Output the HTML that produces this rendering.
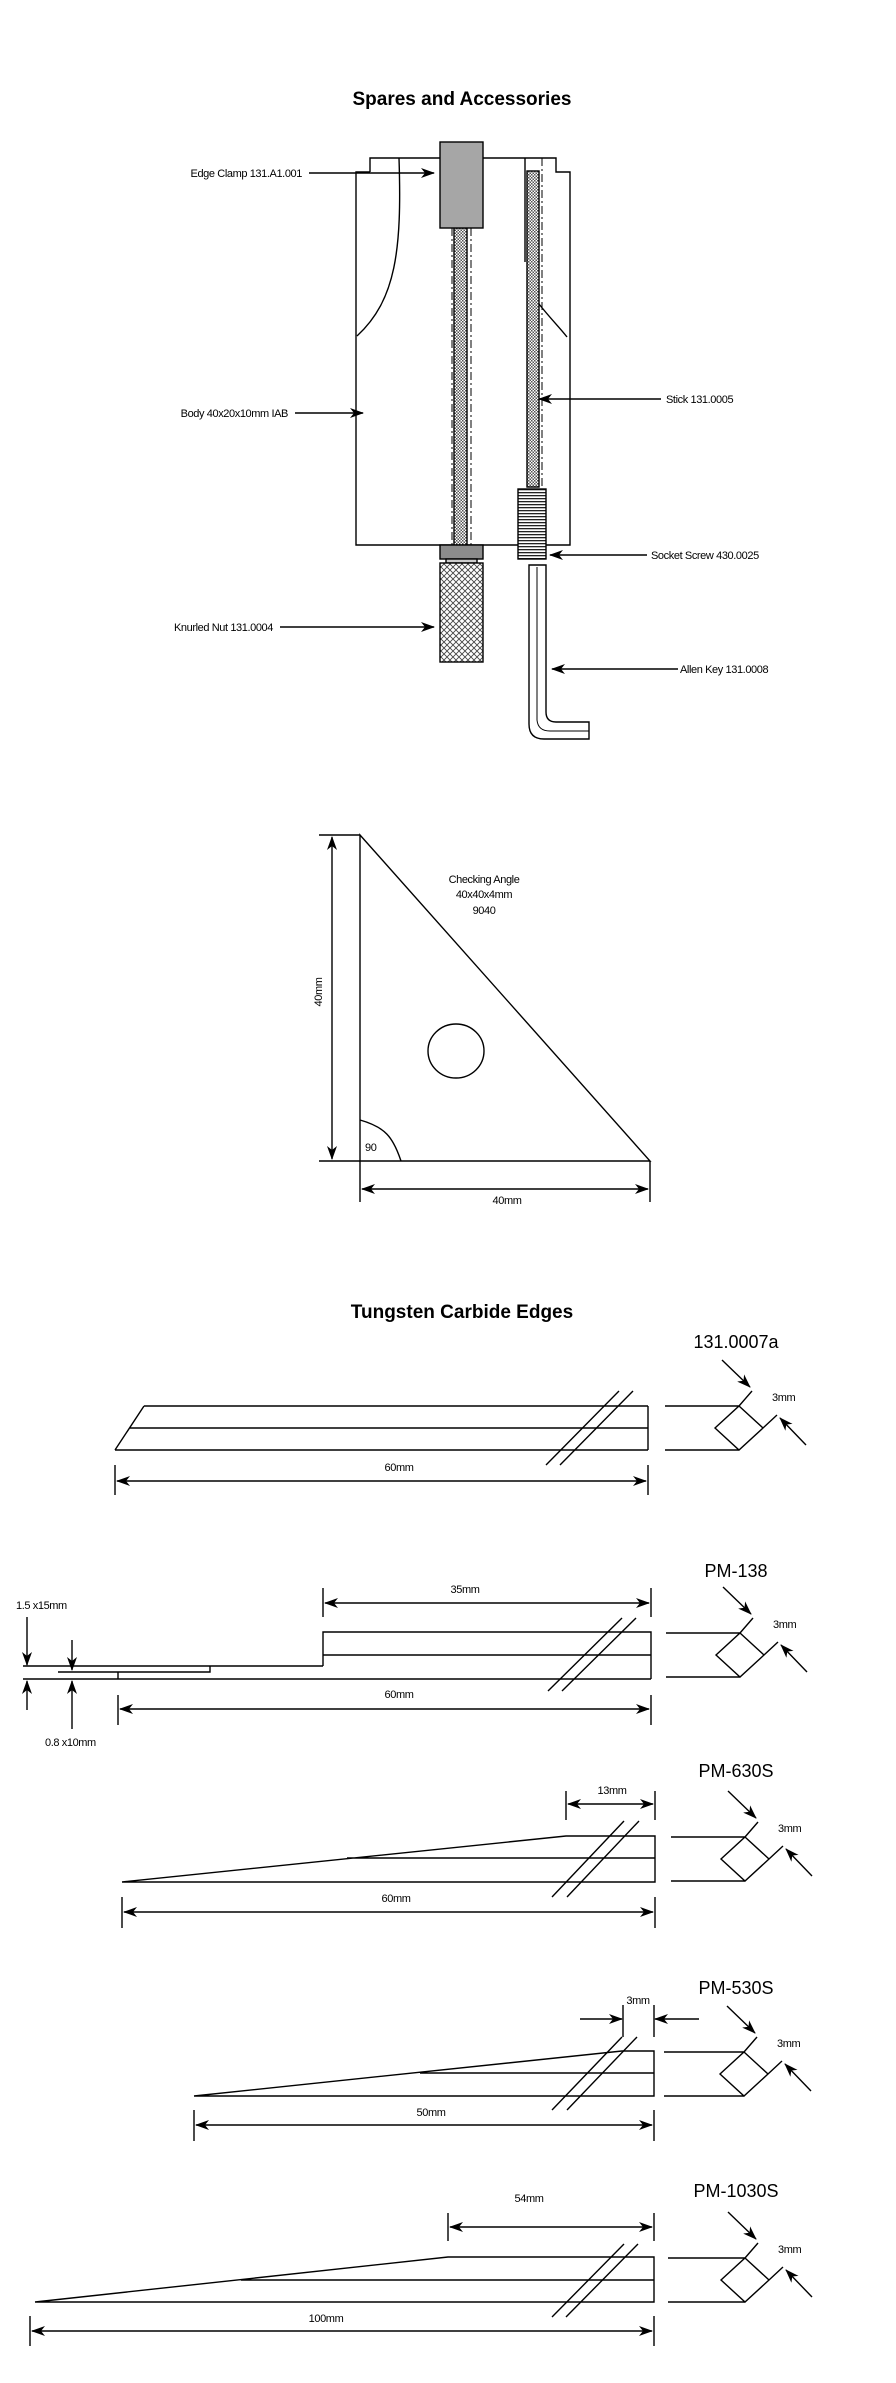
<!DOCTYPE html>
<html><head><meta charset="utf-8"><style>
html,body{margin:0;padding:0;background:#fff}
svg{display:block}
text{font-family:"Liberation Sans",Arial,sans-serif;fill:#000}
.s{font-size:11px;letter-spacing:-0.4px}
.t{font-size:19px;font-weight:bold}
.p{font-size:18px}
</style></head><body>
<svg width="896" height="2383" viewBox="0 0 896 2383" xmlns="http://www.w3.org/2000/svg">
<defs>
<marker id="a" markerWidth="14" markerHeight="10" refX="13" refY="5" orient="auto" markerUnits="userSpaceOnUse">
<path d="M0,0 L14,5 L0,10 L4,5 z" fill="#000"/></marker>
<marker id="b" markerWidth="14" markerHeight="10" refX="1" refY="5" orient="auto" markerUnits="userSpaceOnUse">
<path d="M14,0 L0,5 L14,10 L10,5 z" fill="#000"/></marker>
<pattern id="k" width="3" height="3" patternUnits="userSpaceOnUse"><rect width="3" height="3" fill="#fff"/><rect width="1.5" height="1.5" fill="#555"/><rect x="1.5" y="1.5" width="1.5" height="1.5" fill="#555"/></pattern>
<pattern id="kn" width="6" height="6" patternUnits="userSpaceOnUse"><rect width="6" height="6" fill="#fff"/><path d="M0,0 L6,6 M6,0 L0,6" stroke="#444" stroke-width="0.9"/></pattern>
<pattern id="st" width="4" height="3" patternUnits="userSpaceOnUse"><rect width="4" height="3" fill="#fff"/><rect width="4" height="1.3" fill="#222"/></pattern>
</defs>
<g stroke="#000" stroke-width="1.4" fill="none">

<!-- Body -->
<path d="M370,172 L370,158 L556,158 L556,172 L570,172 L570,545 L356,545 L356,172 L370,172"/>
<path d="M399,158 C402,250 396,300 357,336"/>
<path d="M539,304 C550,318 560,328 567,337"/>
<line x1="525" y1="158" x2="525" y2="262"/>
<line x1="452" y1="228" x2="452" y2="545" stroke-dasharray="8,3,2,3" stroke-width="1"/>
<line x1="471" y1="228" x2="471" y2="662" stroke-dasharray="8,3,2,3" stroke-width="1"/>
<line x1="542" y1="158" x2="542" y2="487" stroke-dasharray="8,3,2,3" stroke-width="1"/>
<rect x="454" y="228" width="13" height="317" fill="url(#k)"/>
<rect x="440" y="142" width="43" height="86" fill="#a6a6a6"/>
<rect x="527" y="171" width="12" height="316" fill="url(#k)"/>
<rect x="518" y="489" width="28" height="70" fill="url(#st)"/>
<rect x="440" y="545" width="43" height="14" fill="#8c8c8c"/>
<rect x="446" y="559" width="31" height="4" fill="#ccc"/>
<rect x="440" y="563" width="43" height="99" fill="url(#kn)"/>
<path d="M529,565 L546,565 L546,712 Q546,722 556,722 L589,722 L589,739 L544,739 Q529,739 529,724 Z"/>
<path d="M537,567 L537,720 Q538,731 550,731 L589,731" stroke-width="1"/>

<line x1="309" y1="173" x2="434" y2="173" marker-end="url(#a)"/>
<line x1="295" y1="413" x2="363" y2="413" marker-end="url(#a)"/>
<line x1="661" y1="399" x2="539" y2="399" marker-end="url(#a)"/>
<line x1="647" y1="555" x2="550" y2="555" marker-end="url(#a)"/>
<line x1="280" y1="627" x2="434" y2="627" marker-end="url(#a)"/>
<line x1="678" y1="669" x2="552" y2="669" marker-end="url(#a)"/>

<!-- Checking angle -->
<path d="M360,835 L360,1161 L650,1161 Z"/>
<line x1="319" y1="835" x2="360" y2="835"/>
<line x1="319" y1="1161" x2="360" y2="1161"/>
<line x1="360" y1="1161" x2="360" y2="1202"/>
<line x1="650" y1="1161" x2="650" y2="1202"/>
<line x1="332" y1="837" x2="332" y2="1159" marker-start="url(#b)" marker-end="url(#a)"/>
<line x1="362" y1="1189" x2="648" y2="1189" marker-start="url(#b)" marker-end="url(#a)"/>
<ellipse cx="456" cy="1051" rx="28" ry="27"/>
<path d="M360,1120 C385,1127 393,1137 401,1161"/>

<!-- 131.0007a -->
<path d="M144,1406 L648,1406 M130,1428 L648,1428 M115,1450 L648,1450 M144,1406 L115,1450 M648,1406 L648,1450"/>
<line x1="546" y1="1465" x2="619" y2="1391"/><line x1="560" y1="1465" x2="633" y2="1391"/>
<path d="M115,1465 L115,1495 M648,1465 L648,1495"/>
<line x1="117" y1="1481" x2="646" y2="1481" marker-start="url(#b)" marker-end="url(#a)"/>

<!-- PM-138 -->
<path d="M323,1666 L323,1632 L651,1632 L651,1679 M323,1655 L651,1655 M23,1666 L323,1666 M23,1679 L651,1679 M58,1672 L210,1672 L210,1666 M118,1672 L118,1679"/>
<line x1="548" y1="1691" x2="622" y2="1618"/><line x1="562" y1="1691" x2="636" y2="1618"/>
<path d="M323,1588 L323,1617 M651,1588 L651,1617 M118,1695 L118,1725 M651,1695 L651,1725"/>
<line x1="325" y1="1603" x2="649" y2="1603" marker-start="url(#b)" marker-end="url(#a)"/>
<line x1="120" y1="1709" x2="649" y2="1709" marker-start="url(#b)" marker-end="url(#a)"/>
<line x1="27" y1="1617" x2="27" y2="1665" marker-end="url(#a)"/>
<line x1="27" y1="1710" x2="27" y2="1681" marker-end="url(#a)"/>
<line x1="72" y1="1640" x2="72" y2="1670" marker-end="url(#a)"/>
<line x1="72" y1="1729" x2="72" y2="1681" marker-end="url(#a)"/>

<!-- PM-630S -->
<path d="M122,1882 L655,1882 L655,1836 L566,1836 L122,1882 M347,1858 L655,1858"/>
<line x1="552" y1="1897" x2="624" y2="1821"/><line x1="567" y1="1897" x2="639" y2="1821"/>
<path d="M566,1791 L566,1820 M655,1791 L655,1820 M122,1897 L122,1928 M655,1897 L655,1928"/>
<line x1="568" y1="1804" x2="653" y2="1804" marker-start="url(#b)" marker-end="url(#a)"/>
<line x1="124" y1="1912" x2="653" y2="1912" marker-start="url(#b)" marker-end="url(#a)"/>

<!-- PM-530S -->
<path d="M194,2096 L654,2096 L654,2051 L622,2051 L194,2096 M420,2073 L654,2073"/>
<line x1="552" y1="2110" x2="622" y2="2037"/><line x1="567" y1="2110" x2="637" y2="2037"/>
<path d="M623,2005 L623,2037 M654,2005 L654,2037 M194,2110 L194,2141 M654,2110 L654,2141"/>
<line x1="580" y1="2019" x2="622" y2="2019" marker-end="url(#a)"/>
<line x1="699" y1="2019" x2="655" y2="2019" marker-end="url(#a)"/>
<line x1="196" y1="2125" x2="652" y2="2125" marker-start="url(#b)" marker-end="url(#a)"/>

<!-- PM-1030S -->
<path d="M35,2302 L654,2302 L654,2257 L448,2257 L35,2302 M241,2280 L654,2280"/>
<line x1="552" y1="2317" x2="624" y2="2244"/><line x1="566" y1="2317" x2="638" y2="2244"/>
<path d="M448,2213 L448,2241 M654,2213 L654,2241 M30,2316 L30,2346 M654,2316 L654,2346"/>
<line x1="450" y1="2227" x2="652" y2="2227" marker-start="url(#b)" marker-end="url(#a)"/>
<line x1="32" y1="2331" x2="652" y2="2331" marker-start="url(#b)" marker-end="url(#a)"/>
</g>

<!-- Sections -->
<g id="sec1" transform="translate(739,1406)" stroke="#000" stroke-width="1.4" fill="none">
<path d="M-74,0 L0,0 M-74,44 L0,44 M0,0 L24,22 L0,44 L-24,22 Z M0,0 L13,-15 M24,22 L38,9"/>
<line x1="-17" y1="-46" x2="11" y2="-19" marker-end="url(#a)"/>
<line x1="67" y1="39" x2="41" y2="12" marker-end="url(#a)"/>
<text x="33" y="-5" class="s" stroke="none" fill="#000">3mm</text></g>
<g transform="translate(740,1633)" stroke="#000" stroke-width="1.4" fill="none">
<path d="M-74,0 L0,0 M-74,44 L0,44 M0,0 L24,22 L0,44 L-24,22 Z M0,0 L13,-15 M24,22 L38,9"/>
<line x1="-17" y1="-46" x2="11" y2="-19" marker-end="url(#a)"/>
<line x1="67" y1="39" x2="41" y2="12" marker-end="url(#a)"/>
<text x="33" y="-5" class="s" stroke="none" fill="#000">3mm</text></g>
<g transform="translate(745,1837)" stroke="#000" stroke-width="1.4" fill="none">
<path d="M-74,0 L0,0 M-74,44 L0,44 M0,0 L24,22 L0,44 L-24,22 Z M0,0 L13,-15 M24,22 L38,9"/>
<line x1="-17" y1="-46" x2="11" y2="-19" marker-end="url(#a)"/>
<line x1="67" y1="39" x2="41" y2="12" marker-end="url(#a)"/>
<text x="33" y="-5" class="s" stroke="none" fill="#000">3mm</text></g>
<g transform="translate(744,2052)" stroke="#000" stroke-width="1.4" fill="none">
<path d="M-80,0 L0,0 M-80,44 L0,44 M0,0 L24,22 L0,44 L-24,22 Z M0,0 L13,-15 M24,22 L38,9"/>
<line x1="-17" y1="-46" x2="11" y2="-19" marker-end="url(#a)"/>
<line x1="67" y1="39" x2="41" y2="12" marker-end="url(#a)"/>
<text x="33" y="-5" class="s" stroke="none" fill="#000">3mm</text></g>
<g transform="translate(745,2258)" stroke="#000" stroke-width="1.4" fill="none">
<path d="M-77,0 L0,0 M-77,44 L0,44 M0,0 L24,22 L0,44 L-24,22 Z M0,0 L13,-15 M24,22 L38,9"/>
<line x1="-17" y1="-46" x2="11" y2="-19" marker-end="url(#a)"/>
<line x1="67" y1="39" x2="41" y2="12" marker-end="url(#a)"/>
<text x="33" y="-5" class="s" stroke="none" fill="#000">3mm</text></g>

<!-- Text -->
<text x="462" y="105" class="t" text-anchor="middle">Spares and Accessories</text>
<text x="302" y="177" class="s" text-anchor="end">Edge Clamp 131.A1.001</text>
<text x="288" y="417" class="s" text-anchor="end">Body 40x20x10mm IAB</text>
<text x="666" y="403" class="s">Stick 131.0005</text>
<text x="651" y="559" class="s">Socket Screw 430.0025</text>
<text x="273" y="631" class="s" text-anchor="end">Knurled Nut 131.0004</text>
<text x="680" y="673" class="s">Allen Key 131.0008</text>

<text x="484" y="883" class="s" text-anchor="middle">Checking Angle</text>
<text x="484" y="898" class="s" text-anchor="middle">40x40x4mm</text>
<text x="484" y="914" class="s" text-anchor="middle">9040</text>
<text x="322" y="992" class="s" text-anchor="middle" transform="rotate(-90 322 992)">40mm</text>
<text x="507" y="1204" class="s" text-anchor="middle">40mm</text>
<text x="365" y="1151" class="s">90</text>

<text x="462" y="1318" class="t" text-anchor="middle">Tungsten Carbide Edges</text>
<text x="736" y="1348" class="p" text-anchor="middle">131.0007a</text>
<text x="399" y="1471" class="s" text-anchor="middle">60mm</text>

<text x="736" y="1577" class="p" text-anchor="middle">PM-138</text>
<text x="465" y="1593" class="s" text-anchor="middle">35mm</text>
<text x="399" y="1698" class="s" text-anchor="middle">60mm</text>
<text x="16" y="1609" class="s">1.5 x15mm</text>
<text x="45" y="1746" class="s">0.8 x10mm</text>

<text x="736" y="1777" class="p" text-anchor="middle">PM-630S</text>
<text x="612" y="1794" class="s" text-anchor="middle">13mm</text>
<text x="396" y="1902" class="s" text-anchor="middle">60mm</text>

<text x="736" y="1994" class="p" text-anchor="middle">PM-530S</text>
<text x="638" y="2004" class="s" text-anchor="middle">3mm</text>
<text x="431" y="2116" class="s" text-anchor="middle">50mm</text>

<text x="736" y="2197" class="p" text-anchor="middle">PM-1030S</text>
<text x="529" y="2202" class="s" text-anchor="middle">54mm</text>
<text x="326" y="2322" class="s" text-anchor="middle">100mm</text>
</svg>
</body></html>
